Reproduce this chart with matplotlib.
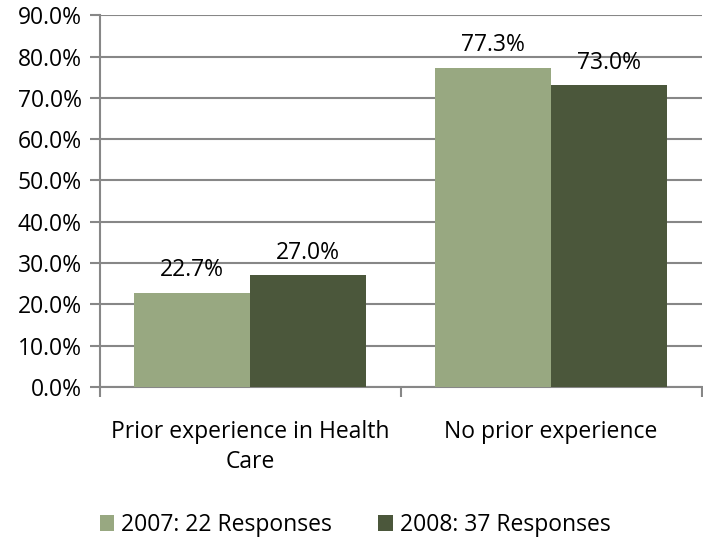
import numpy as np
import matplotlib.pyplot as plt
from matplotlib.ticker import FuncFormatter

categories = ['Prior experience in Health\nCare', 'No prior experience']
series_names = ['2007: 22 Responses', '2008: 37 Responses']
vals_2007 = [22.7, 77.3]
vals_2008 = [27.0, 73.0]
colors = ['#98A881', '#4B573B']

plt.rcParams['font.family'] = ['Open Sans', 'DejaVu Sans']
fs = 16.5

fig = plt.figure(figsize=(7.03, 5.44), dpi=100)
ax = fig.add_axes([0.142, 0.289, 0.856, 0.683])

x = np.arange(len(categories))
w = 0.385
b1 = ax.bar(x - w / 2, vals_2007, w, color=colors[0], label=series_names[0], zorder=3)
b2 = ax.bar(x + w / 2, vals_2008, w, color=colors[1], label=series_names[1], zorder=3)
for bars in (b1, b2):
    for r in bars:
        ax.text(r.get_x() + r.get_width() / 2, r.get_height() + 2.6, f'{r.get_height():.1f}%',
                ha='center', va='bottom', fontsize=fs, color='black')

ax.set_ylim(0, 90)
ax.set_xlim(-0.5, 1.5)
ax.set_yticks(np.arange(0, 91, 10))
ax.yaxis.set_major_formatter(FuncFormatter(lambda v, p: f'{v:.1f}%'))
ax.yaxis.grid(True, color='#878787', linewidth=1.5, zorder=0)
ax.set_xticks(x)
ax.set_xticklabels(categories, fontsize=fs, linespacing=1.3)
ax.set_xticks([-0.5, 0.5, 1.5], minor=True)
ax.tick_params(axis='x', which='major', length=0, pad=24)
ax.tick_params(axis='x', which='minor', length=7, width=1.5, color='#878787')
ax.tick_params(axis='y', length=7, width=1.5, color='#878787', labelsize=fs, pad=6)
for s in ['top', 'right']:
    ax.spines[s].set_visible(False)
for s in ['left', 'bottom']:
    ax.spines[s].set_color('#878787')
    ax.spines[s].set_linewidth(1.5)

fig.legend(handles=[b1, b2], loc='center', bbox_to_anchor=(0.505, 0.035), ncol=2, frameon=False,
           fontsize=fs, handlelength=0.65, handleheight=0.65, handletextpad=0.3, columnspacing=2.0)

fig.savefig('out.png', dpi=100)
